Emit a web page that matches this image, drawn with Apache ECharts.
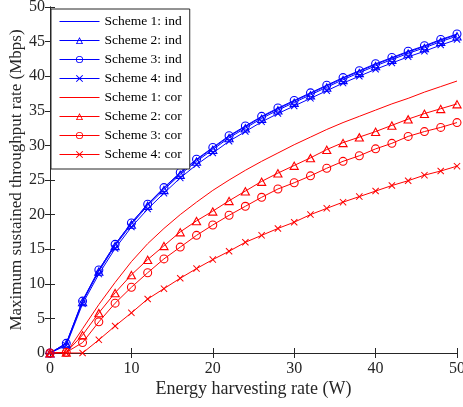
<!DOCTYPE html>
<html>
<head>
<meta charset="utf-8">
<script src="https://cdn.jsdelivr.net/npm/echarts@6/dist/echarts.min.js"></script>
<style>
  html, body { margin: 0; padding: 0; background: #fff; }
  #chart { width: 463px; height: 407px; }
</style>
</head>
<body>
<div id="chart"></div>
<script>
// energy harvesting rate (W)
const xs = [0, 2, 4, 6, 8, 10, 12, 14, 16, 18, 20, 22, 24, 26, 28, 30, 32, 34, 36, 38, 40, 42, 44, 46, 48, 50];

// independent case
const ind1 = [0, 1.4, 7.6, 12.0, 15.7, 18.8, 21.5, 23.8, 26.0, 27.9, 29.6, 31.3, 32.7, 34.1, 35.3, 36.4, 37.5, 38.6, 39.7, 40.7, 41.7, 42.6, 43.5, 44.3, 45.2, 46.0];
const ind2 = [0, 1.3, 7.4, 11.8, 15.5, 18.6, 21.3, 23.6, 25.8, 27.7, 29.4, 31.1, 32.5, 33.9, 35.1, 36.2, 37.3, 38.4, 39.5, 40.5, 41.5, 42.4, 43.3, 44.1, 45.0, 45.8];
const ind3 = [0, 1.4, 7.5, 12.0, 15.7, 18.8, 21.5, 23.9, 26.1, 28.0, 29.7, 31.4, 32.8, 34.2, 35.4, 36.5, 37.6, 38.7, 39.8, 40.8, 41.8, 42.7, 43.6, 44.4, 45.3, 46.1];
const ind4 = [0, 1.1, 7.1, 11.4, 15.1, 18.2, 20.8, 23.1, 25.3, 27.2, 28.9, 30.6, 32.0, 33.4, 34.6, 35.7, 36.8, 37.9, 39.0, 40.0, 41.0, 41.9, 42.8, 43.6, 44.5, 45.3];

// correlated case
const cor1 = [0, 0, 3.5, 7.0, 10.2, 13.2, 15.8, 18.0, 20.0, 21.8, 23.5, 25.0, 26.4, 27.7, 28.9, 30.1, 31.2, 32.3, 33.3, 34.2, 35.1, 36.0, 36.8, 37.7, 38.5, 39.3];
const cor2 = [0, 0.1, 2.6, 5.8, 8.7, 11.3, 13.5, 15.5, 17.5, 19.1, 20.5, 22.0, 23.4, 24.8, 26.0, 27.1, 28.2, 29.4, 30.4, 31.2, 32.0, 32.9, 33.8, 34.6, 35.3, 36.0];
const cor3 = [0, 0.1, 1.5, 4.5, 7.2, 9.5, 11.6, 13.6, 15.3, 17.0, 18.5, 19.9, 21.2, 22.5, 23.7, 24.6, 25.6, 26.7, 27.7, 28.5, 29.5, 30.3, 31.3, 32.0, 32.6, 33.3];
const cor4 = [0, 0, 0, 1.9, 3.9, 5.8, 7.8, 9.3, 10.8, 12.2, 13.5, 14.7, 16.0, 17.0, 18.0, 18.9, 20.0, 20.9, 21.8, 22.6, 23.4, 24.2, 24.9, 25.7, 26.3, 27.0];

const names = [
  'Scheme 1: ind', 'Scheme 2: ind', 'Scheme 3: ind', 'Scheme 4: ind',
  'Scheme 1: cor', 'Scheme 2: cor', 'Scheme 3: cor', 'Scheme 4: cor'
];

const FONT = '"Liberation Serif", "Times New Roman", serif';
const BLUE = '#0000ff';
const RED = '#ff0000';
const AXIS = '#262626';

// hollow markers drawn as rings so the inside stays see-through (like matlab)
const RING = 'path://M0,5A5,5 0 1 1 10,5A5,5 0 1 1 0,5Z M1.2,5A3.8,3.8 0 1 0 8.8,5A3.8,3.8 0 1 0 1.2,5Z';
const TRI = 'path://M5,0L10,8.66L0,8.66Z M5,2.2L1.9,7.56L8.1,7.56Z';
const CROSS = 'path://M0,1L1,0L5,4L9,0L10,1L6,5L10,9L9,10L5,6L1,10L0,9L4,5Z';
// plain line icon for the marker-less series
const LINE_ICON = 'path://M0,0L40,0L40,1L0,1Z';

function mk(name, arr, color, symbol, size) {
  return {
    name: name,
    type: 'line',
    data: xs.map((x, i) => [x, arr[i]]),
    symbol: symbol,
    symbolSize: size,
    showSymbol: symbol !== 'none',
    lineStyle: { color: color, width: 1 },
    itemStyle: { color: color, borderWidth: 0 },
    emphasis: { disabled: true },
    animation: false
  };
}

const chart = echarts.init(document.getElementById('chart'));

chart.setOption({
  animation: false,
  grid: { left: 50, right: 6, top: 7, bottom: 54, outerBoundsMode: 'none' },
  legend: {
    data: names.map((n, i) => (i % 4 === 0 ? { name: n, icon: LINE_ICON } : { name: n })),
    orient: 'vertical',
    left: 51,
    top: 9,
    padding: [5, 8, 7, 8],
    itemWidth: 40,
    itemHeight: 9,
    itemGap: 4,
    backgroundColor: '#fff',
    borderColor: AXIS,
    borderWidth: 1,
    lineStyle: { width: 1 },
    textStyle: { fontFamily: FONT, fontSize: 13.5, color: '#000', lineHeight: 15 }
  },
  xAxis: [{
    type: 'value',
    min: 0, max: 50, interval: 10,
    name: 'Energy harvesting rate (W)',
    nameLocation: 'middle',
    nameGap: 27,
    nameMoveOverlap: false,
    nameTextStyle: { fontFamily: FONT, fontSize: 18, color: AXIS },
    axisLine: { lineStyle: { color: AXIS, width: 1 } },
    axisTick: { inside: true, length: 5, lineStyle: { color: AXIS } },
    axisLabel: { fontFamily: FONT, fontSize: 16, color: AXIS, margin: 8 },
    splitLine: { show: false }
  }, {
    type: 'value', position: 'top',
    min: 0, max: 50, interval: 10,
    axisLine: { show: true, lineStyle: { color: AXIS, width: 1 } },
    axisTick: { show: true, inside: true, length: 5, lineStyle: { color: AXIS } },
    axisLabel: { show: false },
    splitLine: { show: false }
  }],
  yAxis: [{
    type: 'value',
    min: 0, max: 50, interval: 5,
    name: 'Maximum sustained throughput rate (Mbps)',
    nameLocation: 'middle',
    nameGap: 25,
    nameMoveOverlap: false,
    nameTextStyle: { fontFamily: FONT, fontSize: 17, color: AXIS },
    axisLine: { show: true, lineStyle: { color: AXIS, width: 1 } },
    axisTick: { show: true, inside: true, length: 5, lineStyle: { color: AXIS } },
    axisLabel: { fontFamily: FONT, fontSize: 16, color: AXIS, margin: 5 },
    splitLine: { show: false }
  }, {
    type: 'value', position: 'right',
    min: 0, max: 50, interval: 5,
    axisLine: { show: true, lineStyle: { color: AXIS, width: 1 } },
    axisTick: { show: true, inside: true, length: 5, lineStyle: { color: AXIS } },
    axisLabel: { show: false },
    splitLine: { show: false }
  }],
  series: [
    mk(names[0], ind1, BLUE, 'none', 0),
    mk(names[1], ind2, BLUE, TRI, [10, 9]),
    mk(names[2], ind3, BLUE, RING, 9),
    mk(names[3], ind4, BLUE, CROSS, 7),
    mk(names[4], cor1, RED, 'none', 0),
    mk(names[5], cor2, RED, TRI, [10, 9]),
    mk(names[6], cor3, RED, RING, 9),
    mk(names[7], cor4, RED, CROSS, 7)
  ]
});

window.addEventListener('resize', () => chart.resize());
</script>
</body>
</html>
